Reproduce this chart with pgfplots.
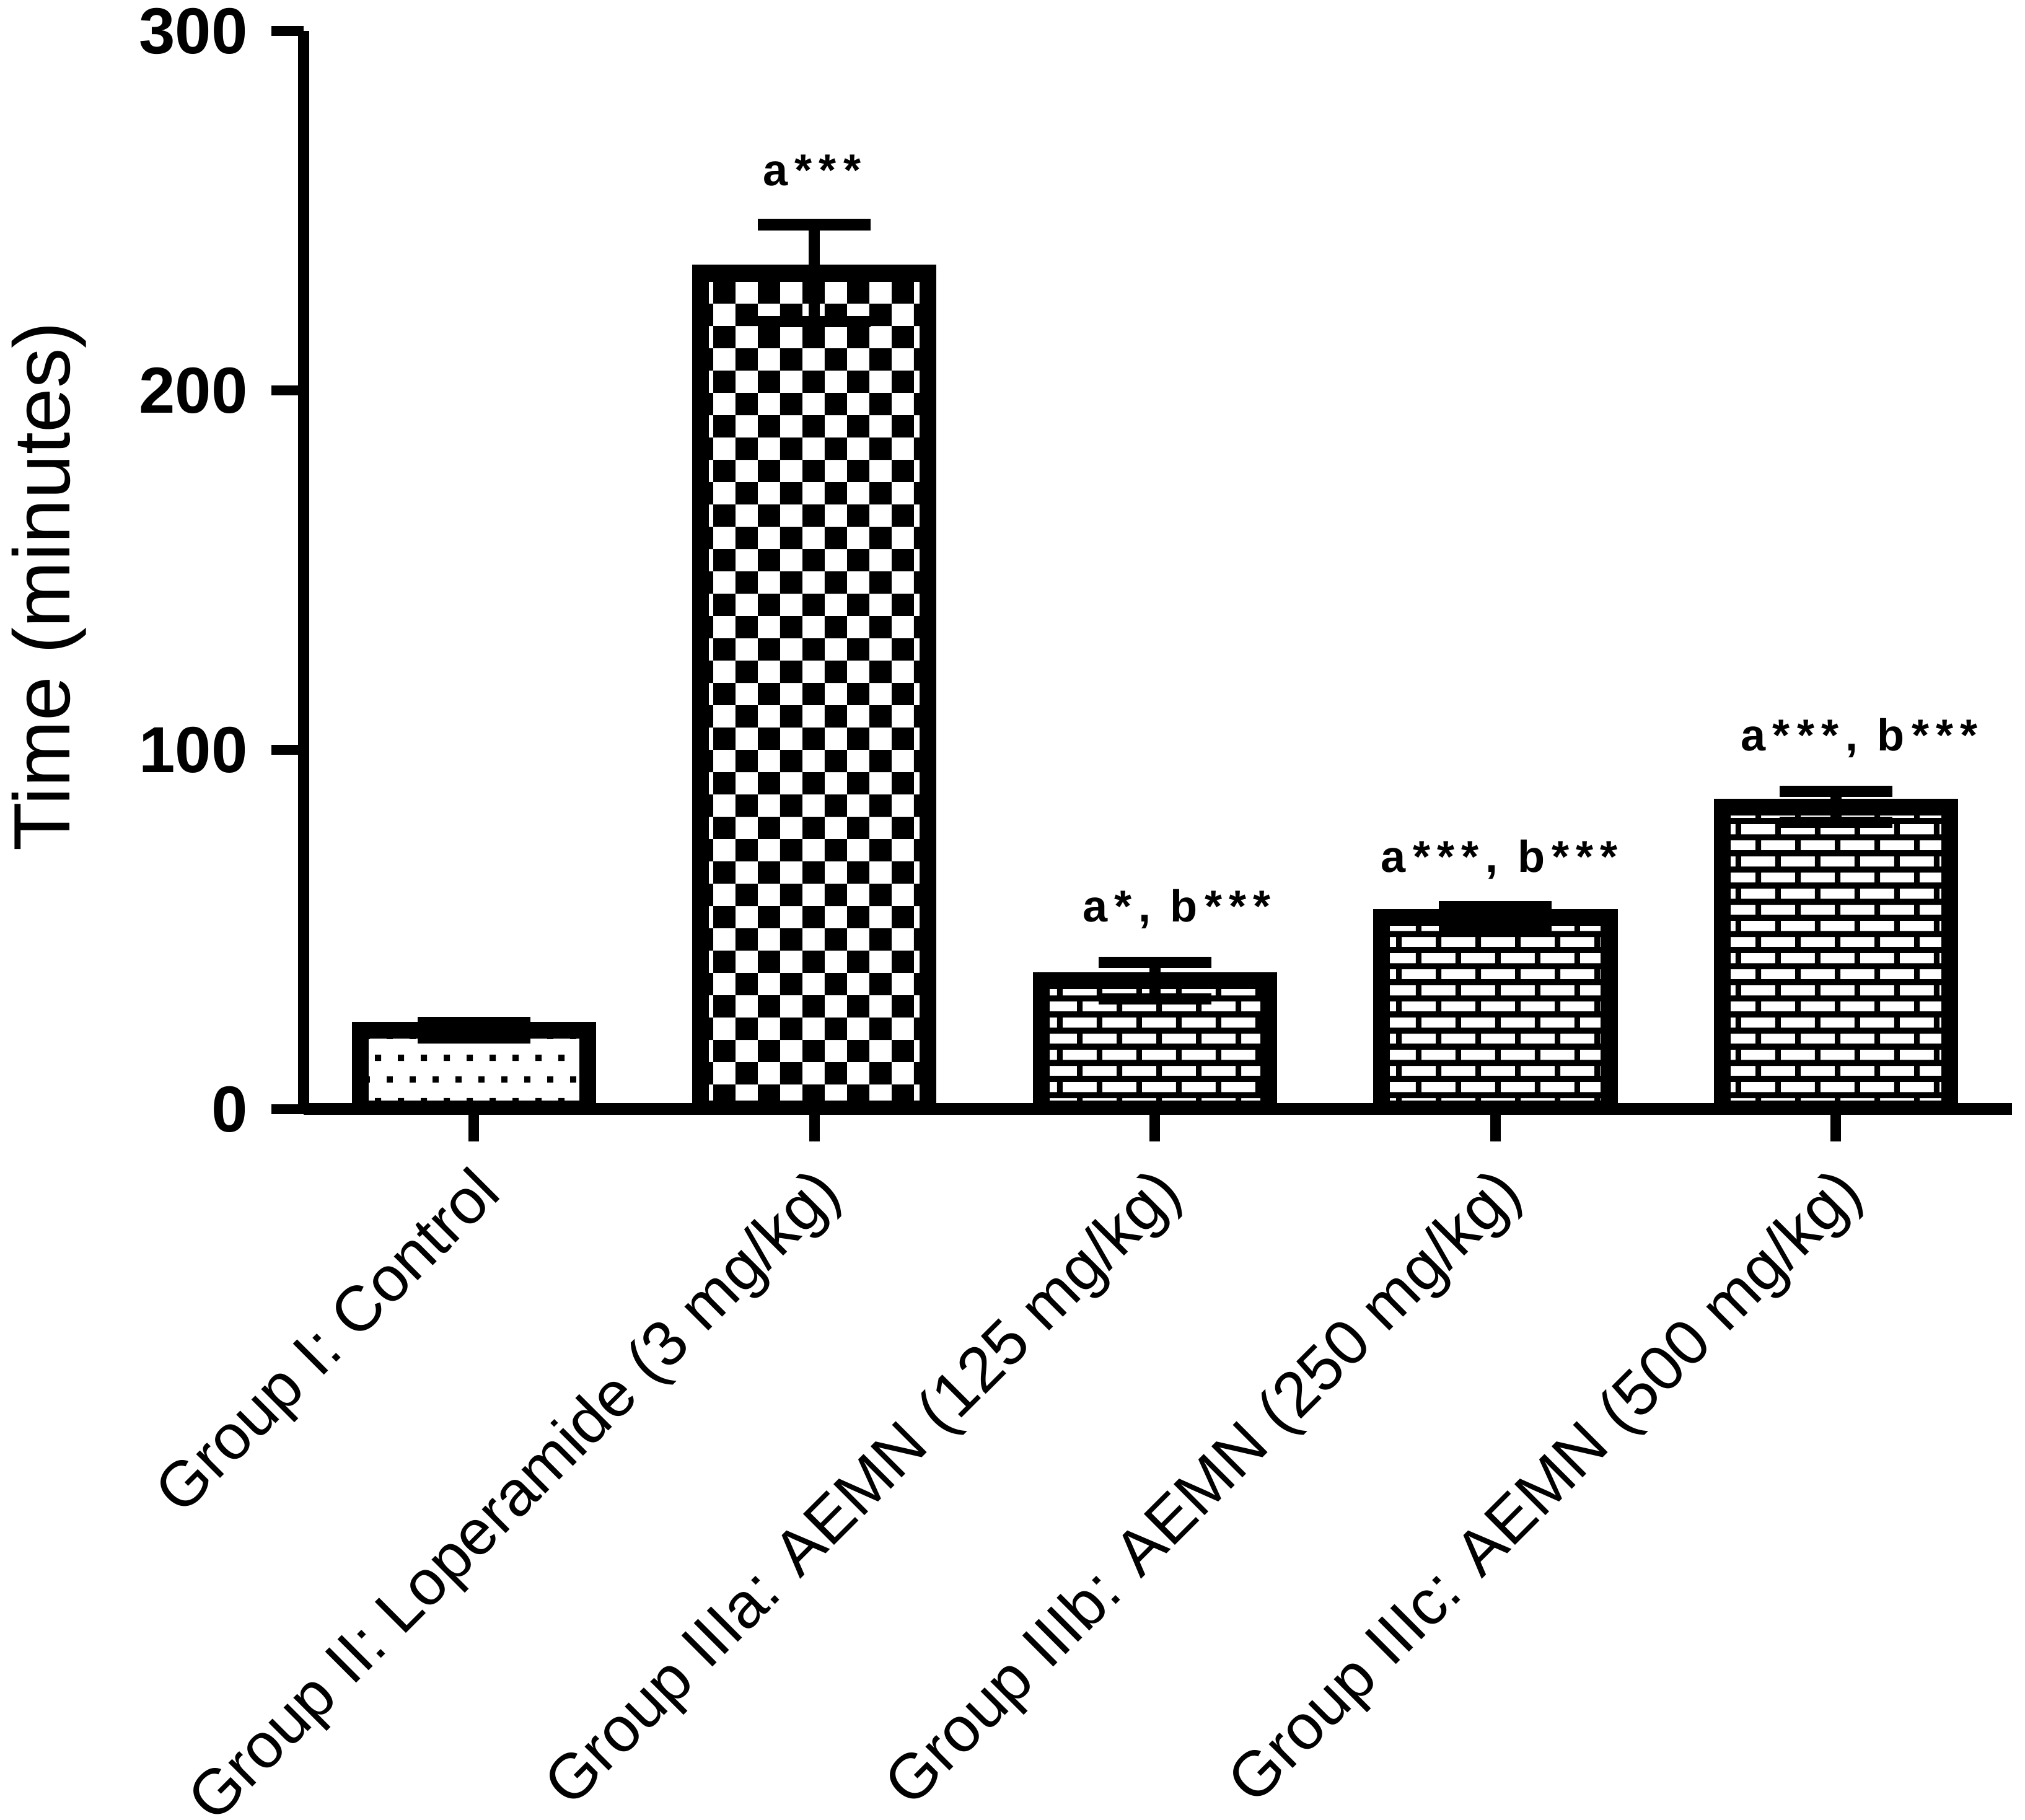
\documentclass[border=0pt]{standalone}
\usepackage{fontspec}
\setmainfont{Liberation Sans}
\usepackage{pgfplots}
\pgfplotsset{compat=1.18}
\usetikzlibrary{patterns}

\pgfdeclarepatternformonly{mydots}{\pgfpointorigin}{\pgfqpoint{5.24pt}{10pt}}{\pgfqpoint{5.24pt}{10pt}}{%
  \pgfpathrectangle{\pgfqpoint{0pt}{0pt}}{\pgfqpoint{1.43pt}{1.43pt}}%
  \pgfpathrectangle{\pgfqpoint{2.62pt}{5pt}}{\pgfqpoint{1.43pt}{1.43pt}}%
  \pgfusepath{fill}}
\pgfdeclarepatternformonly{mychecker}{\pgfpointorigin}{\pgfqpoint{10.28pt}{10.28pt}}{\pgfqpoint{10.28pt}{10.28pt}}{%
  \pgfpathrectangle{\pgfpointorigin}{\pgfqpoint{5.14pt}{5.14pt}}%
  \pgfpathrectangle{\pgfqpoint{5.14pt}{5.14pt}}{\pgfqpoint{5.14pt}{5.14pt}}%
  \pgfusepath{fill}}
\pgfdeclarepatternformonly{mybricks}{\pgfpointorigin}{\pgfqpoint{9.2pt}{7.4pt}}{\pgfqpoint{9.2pt}{7.4pt}}{%
  \pgfpathrectangle{\pgfpointorigin}{\pgfqpoint{9.2pt}{1.4pt}}%
  \pgfpathrectangle{\pgfqpoint{0pt}{3.7pt}}{\pgfqpoint{9.2pt}{1.4pt}}%
  \pgfpathrectangle{\pgfqpoint{0pt}{1.4pt}}{\pgfqpoint{1.3pt}{2.3pt}}%
  \pgfpathrectangle{\pgfqpoint{4.6pt}{5.1pt}}{\pgfqpoint{1.3pt}{2.3pt}}%
  \pgfusepath{fill}}

\newcommand\ls{\kern1.6pt}

\begin{document}
\begin{tikzpicture}
\useasboundingbox (-70pt,-163.86pt) rectangle (396.86pt,255.71pt);
\begin{axis}[
  at={(0,0)}, anchor=south west,
  scale only axis, width=393.86pt, height=248.57pt,
  xmin=-0.5, xmax=4.517, ymin=0, ymax=300,
  axis x line=bottom, axis y line=left,
  axis line style={-, line width=2.7pt, black},
  xtick={0,1,2,3,4},
  xticklabels={Group I: Control, Group II: Loperamide (3 mg/kg), Group IIIa: AEMN (125 mg/kg), Group IIIb: AEMN (250 mg/kg), Group IIIc: AEMN (500 mg/kg)},
  ytick={0,100,200,300},
  tick align=outside, major tick length=7.4pt,
  tick style={line width=2.4pt, black},
  minor tick num=0,
  /pgf/number format/assume math mode=true,
  yticklabel style={xshift=-2pt, font=\bfseries\fontsize{15}{17}\selectfont},
  xticklabel style={xshift=6.5pt, yshift=-7.4pt, rotate=45, anchor=east, font=\fontsize{14.7}{17}\selectfont},
  ylabel={Time (minutes)},
  ylabel style={at={(axis description cs:-0.1370,0.485)}, rotate=0, anchor=base, font=\fontsize{18.4}{20}\selectfont},
  every axis plot/.append style={ybar, bar shift=0pt, bar width=0.668, draw=black, line width=3.9pt,
    error bars/y dir=both, error bars/y explicit,
    error bars/error bar style={line width=2.6pt, black},
    error bars/error mark options={rotate=90, line width=2.6pt, mark size=13pt, black}},
]
\addplot[pattern=mydots] coordinates {(0,22.0) +- (0,2.1)};
\addplot[pattern=mychecker] coordinates {(1,232.6) +- (0,13.5)};
\addplot[pattern=mybricks] coordinates {(2,35.8) +- (0,5.1)};
\addplot[pattern=mybricks] coordinates {(3,53.4) +- (0,2.9)};
\addplot[pattern=mybricks] coordinates {(4,84.1) +- (0,4.3)};
\begin{scope}[every node/.style={anchor=base, inner sep=0pt, font=\bfseries\fontsize{10.3}{12}\selectfont}]
\node at (axis cs:0.993,256.9) {a\ls*\ls*\ls*};
\node at (axis cs:2.064,52.2) {a\ls*\ls,\ls\ b\ls*\ls*\ls*};
\node at (axis cs:3.012,65.9) {a\ls*\ls*\ls*\ls,\ls\ b\ls*\ls*\ls*};
\node at (axis cs:4.069,99.7) {a\ls*\ls*\ls*\ls,\ls\ b\ls*\ls*\ls*};
\end{scope}
\end{axis}
\end{tikzpicture}
\end{document}
